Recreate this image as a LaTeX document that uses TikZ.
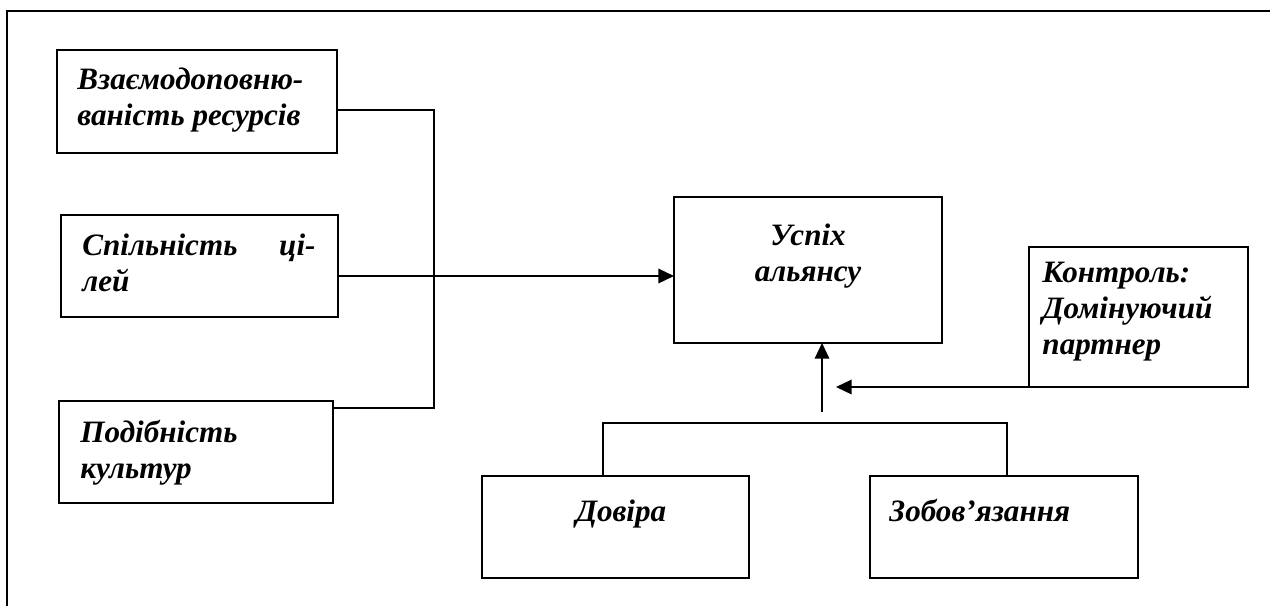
\documentclass[tikz,border=0pt]{standalone}
\usepackage{fontspec}
\setmainfont{Liberation Serif}
\usetikzlibrary{arrows.meta,calc}
\newcommand\mybox[5]{\node[box,minimum width={(#4-#2)*0.45pt},minimum height={(#5-#3)*0.45pt}] (#1) at ({(#2+#4)/2},{(#3+#5)/2}) {};}
\begin{document}
\begin{tikzpicture}[x=0.45pt,y=-0.45pt,
  box/.style={draw,line width=0.95pt,inner sep=0pt,outer sep=0pt},
  txt/.style={inner sep=0pt,anchor=base west,font=\fontsize{14}{16.2}\selectfont\bfseries\itshape},
  conn/.style={line width=0.75pt},
  arr/.style={conn,-{Triangle[length=7pt,width=6.5pt]}},
  frame/.style={line width=1pt}]
\useasboundingbox (0,0) rectangle (1270,606);
% outer frame (open at right and bottom)
\coordinate (fa) at (7,606);
\coordinate (fb) at (7,11);
\coordinate (fc) at (1270,11);
\draw[frame] (fa) -- (fb) -- (fc);
% boxes
\mybox{b1}{57}{50}{337}{153}
\mybox{b2}{61}{215}{338}{317}
\mybox{b3}{59}{401}{333}{503}
\mybox{succ}{674}{197}{942}{343}
\mybox{ctrl}{1029}{247}{1248}{387}
\mybox{dov}{482}{476}{749}{578}
\mybox{zob}{870}{476}{1138}{578}
% texts
\node[txt] (t1) at (77,89) {\parbox[t]{120pt}{\raggedright Взаємодоповню-\\ваність ресурсів}};
\node[txt] (t2) at (82,255) {\parbox[t]{104.9pt}{Спільність\hfill ці-\\лей}};
\node[txt] (t3) at (80,442) {\parbox[t]{120pt}{\raggedright Подібність\\культур}};
\node[txt,anchor=base] (t4) at (808,245) {\parbox[t]{100pt}{\centering Успіх\\альянсу}};
\node[txt] (t5) at (1042,282) {\parbox[t]{100pt}{\raggedright Контроль:\\Домінуючий\\партнер}};
\node[txt,anchor=base] (t6) at (621,521) {Довіра};
\node[txt] (t7) at (889,521) {Зобов’язання};
% connectors
\coordinate (j1) at (434,110);
\coordinate (j3) at (434,408);
\coordinate (j2) at (434,276);
\draw[conn] (j1 -| b1.east) -- (j1) -- (j3) -- (j3 -| b3.east);
\draw[arr] (j2 -| b2.east) -- (j2 -| succ.west);
\coordinate (ctip) at (836,387);
\draw[arr] (ctrl.south west) -- (ctip);
\coordinate (ubot) at (822,412);
\draw[arr] (ubot) -- (ubot |- succ.south);
\coordinate (busL) at (603,423);
\coordinate (busR) at (1007,423);
\draw[conn] (busL |- dov.north) -- (busL) -- (busR) -- (busR |- zob.north);
\end{tikzpicture}
\end{document}
